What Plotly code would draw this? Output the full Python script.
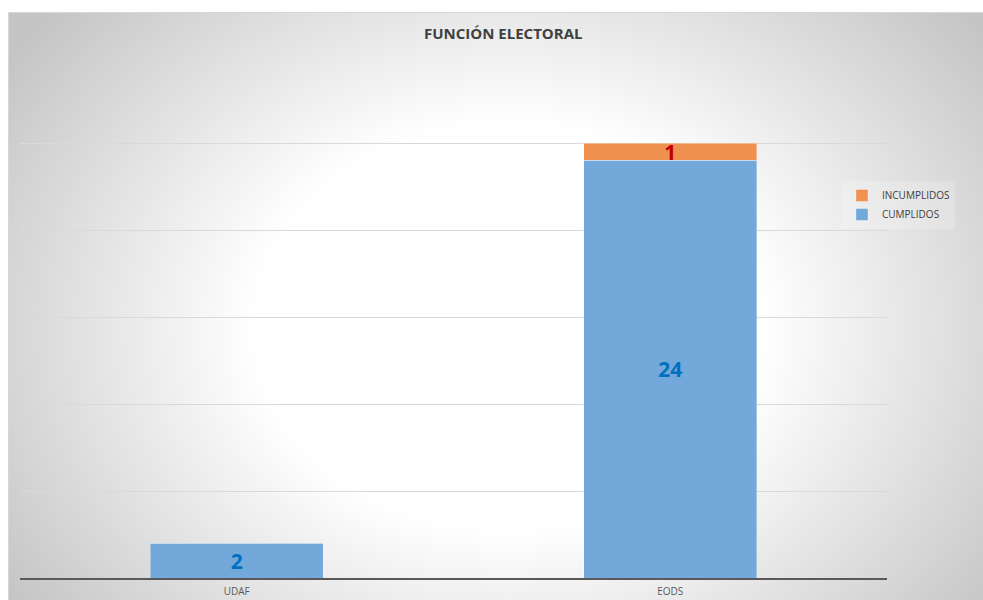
import base64
import plotly.graph_objects as go

categories = ["UDAF", "EODS"]
cumplidos = [2, 24]
incumplidos = [0, 1]
title_text = "FUNCIÓN ELECTORAL"

# radial gradient background (chart area of the Excel-like chart)
svg = """<svg xmlns="http://www.w3.org/2000/svg" width="992" height="608" viewBox="0 0 992 608" preserveAspectRatio="none">
<defs><radialGradient id="g" gradientUnits="userSpaceOnUse" cx="0" cy="0" r="1" gradientTransform="translate(500 315) scale(600 480)">
<stop offset="0" stop-color="#ffffff"/><stop offset="0.42" stop-color="#ffffff"/><stop offset="1" stop-color="#c5c5c5"/></radialGradient></defs>
<rect x="0" y="0" width="992" height="608" fill="url(#g)"/>
<rect x="0.5" y="0.5" width="1000" height="700" fill="none" stroke="#d6d6d6" stroke-width="1"/>
</svg>"""
src = "data:image/svg+xml;base64," + base64.b64encode(svg.encode()).decode()

W, H = 983, 600
ml, mr, mt, mb = 20, 96, 56, 22
pw, ph = W - ml - mr, H - mt - mb

def px_x(x):
    return (x - ml) / pw

def px_y(y):
    return (H - mb - y) / ph

fig = go.Figure()
fig.add_trace(go.Bar(
    name="CUMPLIDOS", x=categories, y=cumplidos,
    text=[str(v) if v else "" for v in cumplidos],
    textposition="inside", insidetextanchor="middle", textangle=0,
    textfont=dict(family="Open Sans", size=21, color="#0070c0", weight="bold"),
    marker=dict(color="#72a8da", line=dict(color="rgba(255,255,255,0.35)", width=1)),
    width=0.4,
))
fig.add_trace(go.Bar(
    name="INCUMPLIDOS", x=categories, y=incumplidos,
    text=[str(v) if v else "" for v in incumplidos],
    textposition="inside", insidetextanchor="middle", textangle=0,
    textfont=dict(family="Open Sans", size=21, color="#c00000", weight="bold"),
    marker=dict(color="#f0914f", line=dict(color="rgba(255,255,255,0.35)", width=1)),
    width=0.4,
))

fig.update_layout(
    width=W, height=H,
    margin=dict(l=ml, r=mr, t=mt, b=mb, pad=0, autoexpand=False),
    barmode="stack",
    paper_bgcolor="white",
    plot_bgcolor="rgba(0,0,0,0)",
    uniformtext=dict(minsize=21, mode="show"),
    font=dict(family="Open Sans", color="#595959"),
    showlegend=True,
    legend=dict(
        x=px_x(842), y=px_y(181), xanchor="left", yanchor="top",
        traceorder="reversed",
        bgcolor="rgba(255,255,255,0.2)",
        font=dict(size=10, color="#404040"),
        itemwidth=30,
    ),
    images=[dict(
        source=src, xref="paper", yref="paper",
        x=px_x(8), y=px_y(12), sizex=992 / pw, sizey=608 / ph,
        xanchor="left", yanchor="top", sizing="stretch", layer="below",
    )],
    annotations=[dict(
        text="<b>" + title_text + "</b>", xref="paper", yref="paper",
        x=px_x(503), y=px_y(33), xanchor="center", yanchor="middle",
        showarrow=False, font=dict(family="Open Sans", size=15, color="#404040"),
    )],
    xaxis=dict(
        showline=True, linecolor="#595959", linewidth=1.5,
        showgrid=False, ticks="", tickfont=dict(size=10, color="#595959"),
        ticklabelstandoff=3, fixedrange=True, automargin=False,
    ),
    yaxis=dict(
        range=[0, 30], dtick=5, showticklabels=False,
        showgrid=True, gridcolor="#d9d9d9", gridwidth=1,
        zeroline=False, showline=False, fixedrange=True, automargin=False,
    ),
    bargap=0.6,
)

fig.write_html(
    "out.html",
    config={"displayModeBar": False},
    post_script="document.body.style.margin='0';document.body.style.overflow='hidden';",
)
